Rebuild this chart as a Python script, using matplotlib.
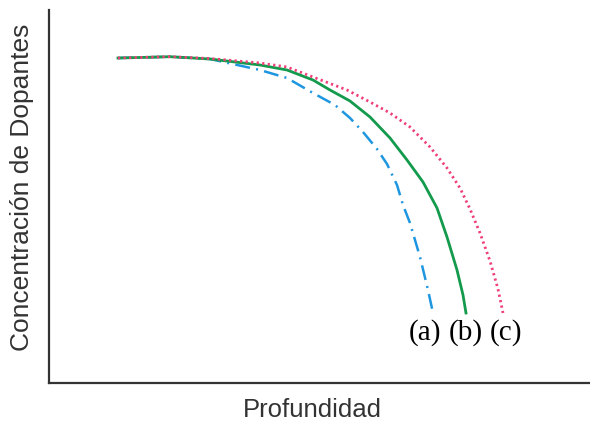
import matplotlib
matplotlib.use("Agg")
import matplotlib.pyplot as plt

# depth vs dopant concentration (arbitrary units)
depth_a = [69, 91, 121, 161, 211, 238, 264, 286, 301, 314, 328, 338, 348, 354, 361, 371, 379, 384]
conc_a = [325, 325.5, 326.3, 324, 313, 305, 290, 278, 265, 251, 234, 219, 198, 178, 160, 126, 93, 70]

depth_b = [69, 91, 121, 161, 211, 238, 264, 281, 301, 321, 341, 358, 374, 388, 398, 408, 414, 417]
conc_b = [325, 325.5, 326.3, 324, 318, 313, 303, 293, 282, 266, 245, 223, 201, 175, 146, 113, 88, 70]

depth_c = [69, 121, 161, 211, 238, 264, 298, 321, 341, 361, 381, 398, 411, 421, 431, 441, 449, 454]
conc_c = [325, 326.3, 324.5, 320, 316, 306, 293, 281, 270, 256, 236, 215, 195, 174, 150, 122, 94, 70]

labels = ["(a)", "(b)", "(c)"]
label_x = [376, 417, 457]

fig = plt.figure(figsize=(5.9, 4.23), dpi=100)
ax = fig.add_axes([49 / 590, 40 / 423, 541 / 590, 373 / 423])

ax.plot(depth_a, conc_a, color="#1e96e0", lw=1.8, linestyle=(0, (6, 2.5, 0.8, 2.5)))
ax.plot(depth_b, conc_b, color="#139a4c", lw=2.0)
ax.plot(depth_c, conc_c, color="#ef3f78", lw=2.0, linestyle=(0, (0.8, 1.2)))

for lab, x in zip(labels, label_x):
    ax.text(x, 50, lab, fontsize=21, family="Liberation Serif",
            ha="center", va="center")

ax.set_xlim(0, 541)
ax.set_ylim(0, 373)
ax.set_xticks([])
ax.set_yticks([])
for side in ["top", "right"]:
    ax.spines[side].set_visible(False)
for side in ["left", "bottom"]:
    ax.spines[side].set_color("#333333")
    ax.spines[side].set_linewidth(1.6)

fig.text(312 / 590, 1 - 410 / 423, "Profundidad", fontsize=18.5,
         family="Liberation Sans", ha="center", va="center", color="#333333")
fig.text(22 / 590, 1 - 187 / 423, "Concentración de Dopantes", fontsize=19,
         family="Liberation Sans", ha="center", va="center", rotation=90,
         color="#333333")

fig.savefig("out.png", dpi=100)
